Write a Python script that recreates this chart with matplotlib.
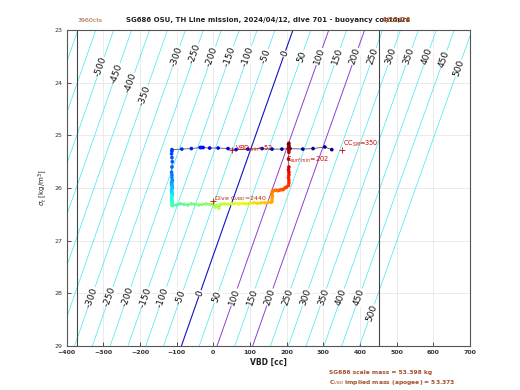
import numpy as np
import matplotlib
matplotlib.use("Agg")
import matplotlib.pyplot as plt

# ---------------- data ----------------
mass_g = 53373.0          # implied mass (g)
hull_cc = 51956.0         # hull volume at zero VBD (cc)
buoy_levels = list(range(-1000, 501, 50))
purple_levels = [100, 200]
vbd_limits = [-372, 452]

# contour label positions (buoyancy value, sigma at label)
top_labels = [(-500, 23.70), (-450, 23.82), (-400, 24.00), (-350, 24.24),
              (-300, 23.50), (-250, 23.45), (-200, 23.50), (-150, 23.50),
              (-100, 23.50), (-50, 23.50), (0, 23.45), (50, 23.50),
              (100, 23.50), (150, 23.50), (200, 23.50), (250, 23.50),
              (300, 23.50), (350, 23.50), (400, 23.50), (450, 23.55), (500, 23.72)]
bot_labels = [(-300, 28.07), (-250, 28.07), (-200, 28.07), (-150, 28.07),
              (-100, 28.07), (-50, 28.07), (0, 28.00), (50, 28.07),
              (100, 28.07), (150, 28.07), (200, 28.07), (250, 28.07),
              (300, 28.07), (350, 28.07), (400, 28.07), (450, 28.07), (500, 28.37)]

# dive track (VBD cc, sigma_t)
track_vbd = [323, 304, 272, 244, 209, 187, 160, 133, 94, 62, 40, 13, -10, -28, -33, -36, -60, -86, -113,
             -113, -114, -113, -112, -113, -114, -113, -113, -112, -113, -114, -113, -113, -112, -113,
             -114, -113, -113, -112, -113, -114, -113, -113, -112, -113, -113,
             -110, -100, -90, -80, -70, -60, -50, -40, -30, -20, -10, 0, 5, 10, 15, 20, 30, 40, 50, 60,
             70, 80, 90, 100, 110, 120, 130, 140, 150, 158,
             160, 160, 161, 160, 161, 165, 170, 175, 180, 185, 190, 195, 200, 205,
             206, 206, 205, 206, 206, 205, 206, 205,
             206, 206, 205, 206, 206, 205, 206]
track_sig = [25.27, 25.22, 25.25, 25.26, 25.25, 25.26, 25.26, 25.25, 25.26, 25.27, 25.25, 25.24, 25.24,
             25.23, 25.23, 25.23, 25.25, 25.26, 25.27,
             25.30, 25.35, 25.42, 25.50, 25.60, 25.70, 25.75, 25.80, 25.85, 25.88, 25.90, 25.93, 25.96,
             25.99, 26.02, 26.05, 26.08, 26.10, 26.13, 26.16, 26.19, 26.22, 26.25, 26.28, 26.31, 26.33,
             26.33, 26.32, 26.30, 26.31, 26.32, 26.30, 26.31, 26.32, 26.31, 26.30, 26.31, 26.30, 26.36,
             26.33, 26.38, 26.31, 26.30, 26.31, 26.30, 26.29, 26.30, 26.29, 26.30, 26.29, 26.28, 26.29,
             26.28, 26.28, 26.27, 26.27,
             26.25, 26.20, 26.15, 26.10, 26.06, 26.05, 26.04, 26.05, 26.04, 26.03, 26.03, 26.00, 25.98,
             25.95,
             25.90, 25.85, 25.80, 25.75, 25.70, 25.65, 25.60, 25.45,
             25.32, 25.28, 25.25, 25.22, 25.20, 25.17, 25.15]

red_marks_vbd = [52, 352, 0]
red_marks_sig = [25.27, 25.27, 26.24]

# ---------------- figure ----------------
fig = plt.figure(figsize=(5.2, 3.9), dpi=100)
ax = fig.add_axes([0.1283, 0.1128, 0.7755, 0.8100])
ax.set_xlim(-400, 700)
ax.set_ylim(29, 23)
ax.set_xticks(range(-400, 701, 100))
ax.set_yticks(range(23, 30))
ax.grid(True, color="#e3e3e3", lw=0.5)
ax.set_axisbelow(True)
ax.tick_params(direction="in", length=3, width=0.6, labelsize=4.5, colors="#333333", pad=3)
for lab in ax.get_xticklabels():
    lab.set_fontweight("bold")
for s in ax.spines.values():
    s.set_color("#555555")
    s.set_linewidth(0.8)

sig = np.linspace(23, 29, 50)

def vbd_of(b, s):
    return (mass_g + b) / (1 + np.asarray(s) / 1000.0) - hull_cc

for b in buoy_levels:
    if b == 0:
        col, lw = "#1010c8", 0.8
    elif b in purple_levels:
        col, lw = "#9040d0", 0.7
    else:
        col, lw = "#40e8f0", 0.5
    ax.plot(vbd_of(b, sig), sig, color=col, lw=lw, zorder=1)

ang = np.degrees(np.arctan2(316, 110))
for b, s in top_labels + bot_labels:
    ax.text(vbd_of(b, s), s, f"{b}", rotation=ang, fontsize=6.5, ha="center", va="center",
            color="#111111", zorder=2,
            bbox=dict(facecolor="white", edgecolor="none", pad=0.3))

for v in vbd_limits:
    ax.axvline(v, color="#444444", lw=0.8, zorder=2)

# track
ax.plot(track_vbd, track_sig, color="#555555", lw=0.6, zorder=3)
cvals = np.arange(len(track_vbd))
ax.scatter(track_vbd, track_sig, c=cvals, cmap="jet", s=7, marker="o", lw=0, zorder=4)

ax.plot(red_marks_vbd, red_marks_sig, "+", color="#e00000", ms=4, mew=0.6, zorder=5)
tc = "#d00000"
ax.text(58, 25.26, r"VBD$_{min}$=52", color=tc, fontsize=4.7, va="center", zorder=6)
ax.text(355, 25.16, r"CC$_{SM}$=350", color=tc, fontsize=4.7, va="center", zorder=6)
ax.text(198, 25.47, r"C$_{surf\ min}$=202", color=tc, fontsize=4.7, va="center", zorder=6)
ax.text(3, 26.20, r"Dive C$_{VBD}$=2440", color="#b03000", fontsize=4.5, va="center", zorder=6)

ax.set_xlabel("VBD [cc]", fontsize=5.5, fontweight="bold", color="#222222", labelpad=2)
ax.set_ylabel(r"$\sigma_t$ [kg/m$^3$]", fontsize=5, color="#222222", labelpad=4)

fig.text(0.516, 0.948, "SG686 OSU, TH Line mission, 2024/04/12, dive 701 - buoyancy contours",
         ha="center", va="center", fontsize=5, fontweight="bold", color="#222222")
fig.text(0.733, 0.948, "4/12/24", ha="left", va="center", fontsize=5, fontweight="bold",
         color="#b05020")
fig.text(0.150, 0.948, "3960cts", ha="left", va="center", fontsize=4.5, color="#a0522d")
bc = "#a0522d"
fig.text(0.633, 0.044, "SG686 scale mass = 53.398 kg", fontsize=4.3, fontweight="bold",
         color=bc, va="center")
fig.text(0.633, 0.020, r"C$_{VBD}$ implied mass (apogee) = 53.373", fontsize=4.3,
         fontweight="bold", color=bc, va="center")

fig.savefig("out.png", dpi=100)
